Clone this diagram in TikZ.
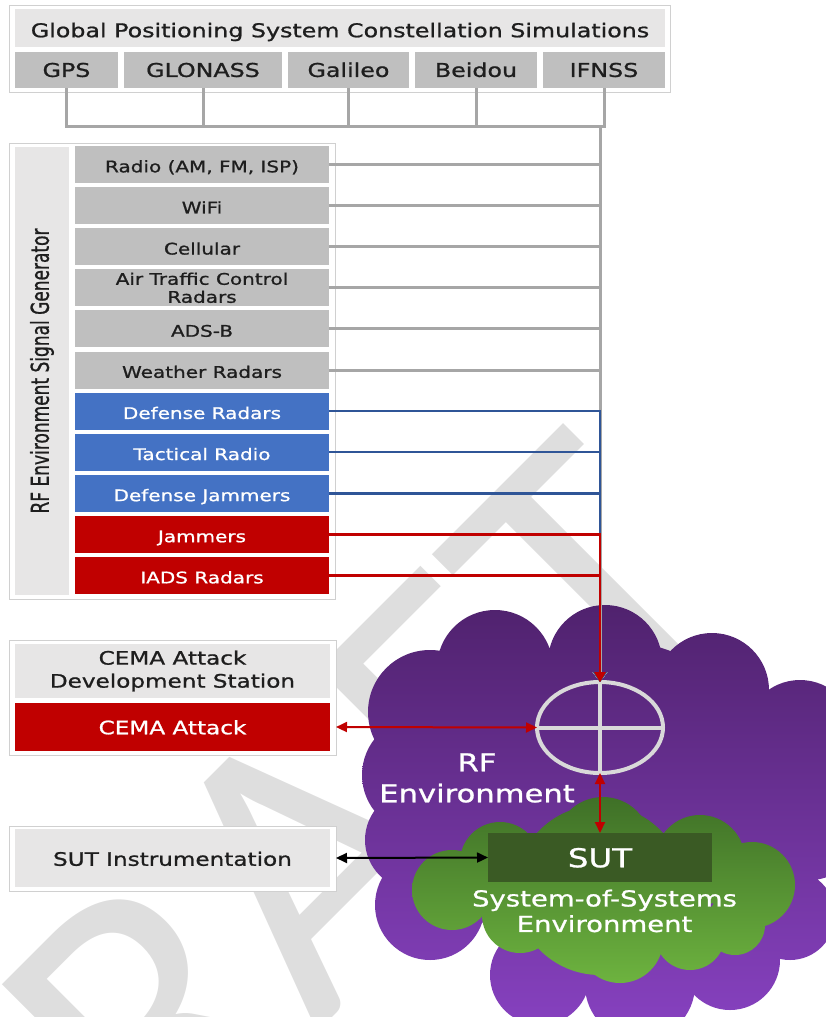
\documentclass[tikz,border=0pt]{standalone}
\usepackage{graphicx}
\usepackage{fontspec}
\setmainfont{DejaVu Sans}[FakeStretch=1.25,FakeBold=1]
\newfontfamily\plainfont{DejaVu Sans}[FakeBold=1]
\newfontfamily\wmfont{Carlito}
\usetikzlibrary{shapes.geometric,arrows.meta,calc}
\definecolor{boxlight}{HTML}{E7E6E6}
\definecolor{boxgray}{HTML}{BFBFBF}
\definecolor{boxblue}{HTML}{4472C4}
\definecolor{boxred}{HTML}{C00000}
\definecolor{lineblue}{HTML}{2F5597}
\definecolor{linegray}{HTML}{A6A6A6}
\definecolor{framegray}{HTML}{D0D0D0}
\definecolor{wmgray}{HTML}{DEDEDE}
\definecolor{txtdark}{HTML}{1E1E1E}
\definecolor{purptop}{HTML}{50226E}
\definecolor{purpbot}{HTML}{8842C2}
\definecolor{greentop}{HTML}{3F7027}
\definecolor{greenbot}{HTML}{6DB33F}
\definecolor{sutgreen}{HTML}{3A5A24}
\definecolor{crossgray}{HTML}{D9D9D9}
\newcommand\fTitle{\fontsize{19}{22}\selectfont}
\newcommand\fSat{\fontsize{19}{22}\selectfont}
\newcommand\fList{\fontsize{16}{18}\selectfont}
\newcommand\fCema{\fontsize{18.5}{23}\selectfont}
\newcommand\fRot{\plainfont\fontsize{17}{20}\selectfont}
\newcommand\fRF{\fontsize{24.5}{31}\selectfont}
\newcommand\fSut{\fontsize{26}{30}\selectfont}
\newcommand\fSoS{\fontsize{22}{25.5}\selectfont}
\newcommand\fWm{\wmfont\fontsize{400}{400}\selectfont}
\begin{document}
\begin{tikzpicture}[x=1pt,y=-1pt,
  capbox/.style={text height=#1,text depth=0pt},
  frame/.style={draw=framegray,line width=0.8pt,fill=white,inner sep=0pt,outer sep=0pt},
  lightbox/.style={fill=boxlight,inner sep=0pt,outer sep=0pt,text=txtdark,align=center},
  listbase/.style={fill=boxgray,minimum width=254pt,minimum height=37pt,inner sep=0pt,outer sep=0pt,text=txtdark,font=\fList,align=center},
  listbox/.style={listbase,capbox=15.66pt},
  bluebox/.style={listbox,fill=boxblue,text=white},
  redbox/.style={listbox,fill=boxred,text=white},
  satbox/.style={fill=boxgray,minimum height=36pt,inner sep=0pt,outer sep=0pt,text=txtdark,font=\fSat,capbox=13.85pt},
  gconn/.style={draw=linegray,line width=3pt,-{Triangle[width=14pt,length=10pt]}},
  bconn/.style={draw=lineblue,line width=2.5pt,-{Triangle[width=13pt,length=10pt]}},
  rconn/.style={draw=boxred,line width=2.5pt,-{Triangle[width=11pt,length=10pt]}},
  rdbl/.style={draw=boxred,line width=2pt,{Triangle[width=10pt,length=11pt]}-{Triangle[width=10pt,length=11pt]}},
  kdbl/.style={draw=black,line width=2pt,{Triangle[width=10pt,length=11pt]}-{Triangle[width=10pt,length=11pt]}},
  wm/.style={font=\fWm,text=wmgray,inner sep=0pt}
]
\useasboundingbox (0,0) rectangle (826,1017);
\clip (0,0) rectangle (826,1017);
% watermark
\node[wm,anchor=base east,rotate=45] (wm) at (748.5,601.5) {DRAFT};
% clouds
\shade[top color=purptop,bottom color=purpbot]
  (495,668) circle[radius=58pt] (605,662) circle[radius=57pt] (712,690) circle[radius=57pt]
  (800,735) circle[radius=55pt] (810,830) circle[radius=50pt] (790,915) circle[radius=45pt]
  (730,960) circle[radius=50pt] (640,985) circle[radius=55pt] (540,975) circle[radius=50pt]
  (430,905) circle[radius=55pt] (415,840) circle[radius=50pt] (420,775) circle[radius=58pt]
  (430,712) circle[radius=62pt] (760,820) circle[radius=65pt] (610,810) circle[radius=170pt];
\shade[top color=greentop,bottom color=greenbot]
  (603,845) circle[radius=48pt] (700,860) circle[radius=45pt] (752,885) circle[radius=43pt]
  (735,925) circle[radius=30pt] (690,935) circle[radius=35pt] (620,940) circle[radius=43pt]
  (520,915) circle[radius=38pt] (452,890) circle[radius=40pt] (500,862) circle[radius=40pt]
  (600,890) circle[radius=85pt];
% frames
\node[frame,minimum width=661pt,minimum height=87pt] (gframe) at (339.5,48.5) {};
\node[frame,minimum width=326pt,minimum height=456pt] (rfframe) at (172,371) {};
\node[frame,minimum width=327pt,minimum height=115pt] (cemaframe) at (172.5,697.5) {};
\node[frame,minimum width=327pt,minimum height=65pt] (sutframe) at (172.5,858.5) {};
% GNSS
\node[lightbox,minimum width=650pt,minimum height=38pt,font=\fTitle,capbox=18.45pt] (title) at (340,28) {Global Positioning System Constellation Simulations};
\node[satbox,minimum width=103pt] (gps) at (66.5,70) {GPS};
\node[satbox,minimum width=158pt] (glonass) at (203,70) {GLONASS};
\node[satbox,minimum width=121pt] (galileo) at (348.5,70) {Galileo};
\node[satbox,minimum width=122pt] (beidou) at (476,70) {Beidou};
\node[satbox,minimum width=122pt] (ifnss) at (604,70) {IFNSS};
\coordinate (hub) at (600,126);
% RF generator
\node[lightbox,minimum width=448pt,minimum height=54pt,rotate=90,font=\fRot] (rflab) at (42,371) {\scalebox{1}[1.45]{RF Environment Signal Generator}};
\node[listbox] (radio) at (202,164.5) {Radio (AM, FM, ISP)};
\node[listbox] (wifi) at (202,205.6) {WiFi};
\node[listbox] (cell) at (202,246.7) {Cellular};
\node[listbase] (atc) at (202,287.8) {Air Traffic Control\\Radars};
\node[listbox] (adsb) at (202,328.9) {ADS-B};
\node[listbox] (wx) at (202,370) {Weather Radars};
\node[bluebox] (defr) at (202,411.1) {Defense Radars};
\node[bluebox] (tact) at (202,452.2) {Tactical Radio};
\node[bluebox] (defj) at (202,493.3) {Defense Jammers};
\node[redbox] (jam) at (202,534.4) {Jammers};
\node[redbox] (iads) at (202,575.5) {IADS Radars};
% CEMA and SUT instrumentation
\node[lightbox,minimum width=315pt,minimum height=54pt,font=\fCema] (cemadev) at (172.5,671) {CEMA Attack\\Development Station};
\node[lightbox,fill=boxred,text=white,minimum width=315pt,minimum height=48pt,font=\fCema,capbox=14.5pt] (cema) at (172.5,727) {CEMA Attack};
\node[lightbox,minimum width=315pt,minimum height=58pt,font=\fCema,capbox=15.5pt] (sutinstr) at (172.5,858) {SUT Instrumentation};
% cloud contents
\node[draw=crossgray,line width=4pt,ellipse,minimum width=126pt,minimum height=91pt,inner sep=0pt,outer sep=0pt] (cross) at (600,727.5) {};
\node[font=\fRF,text=white,align=center] (rfenv) at (477,778) {RF\\Environment};
\node[fill=sutgreen,minimum width=224pt,minimum height=49pt,inner sep=0pt,outer sep=0pt,font=\fSut,text=white,capbox=19.5pt] (sut) at (600,857.5) {SUT};
\node[font=\fSoS,text=white,align=center] (sos) at (604.5,911) {System-of-Systems\\Environment};
% connectors
\foreach \n in {gps,glonass,galileo,beidou,ifnss}
  \draw[gconn] (\n.south) |- (hub) -- (cross.north);
\foreach \n in {radio,wifi,cell,atc,adsb,wx}
  \draw[gconn] (\n.east) -| (cross.north);
\foreach \n in {defr,tact,defj}
  \draw[bconn] (\n.east) -| (cross.north);
\foreach \n in {jam,iads}
  \draw[rconn] (\n.east) -| (cross.north);
\draw[crossgray,line width=4pt] (cross.north) -- (cross.south) (cross.west) -- (cross.east);
\draw[rdbl] (cema.east -| cemaframe.east) -- (cross.west);
\draw[rdbl] (cross.south) -- (sut.north);
\draw[kdbl] (sutinstr.east -| sutframe.east) -- (sut.west);
\end{tikzpicture}
\end{document}
